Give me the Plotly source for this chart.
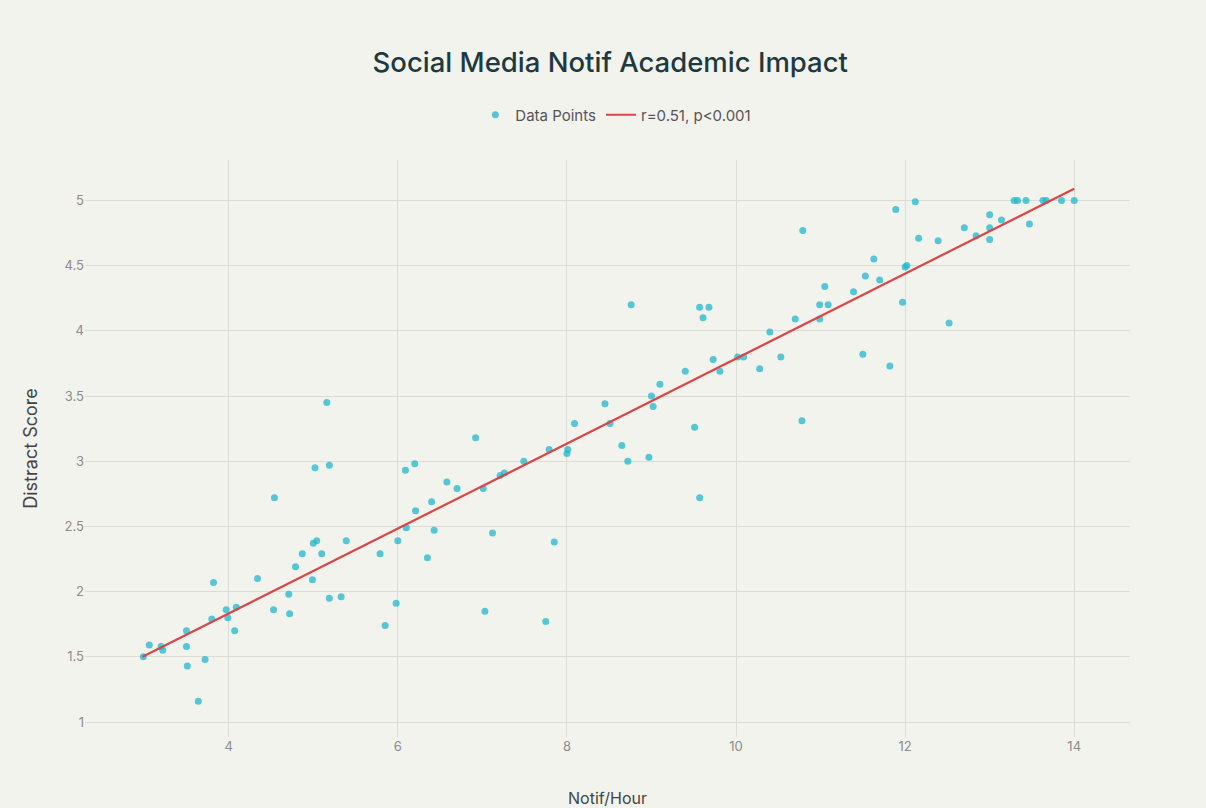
import plotly.graph_objects as go

# Notifications per hour vs. distraction score
notif_per_hour = [
    2.99, 3.06, 3.20, 3.22, 3.50, 3.50, 3.51, 3.72, 3.64, 3.80,
    3.82, 3.97, 3.99, 4.09, 4.07, 4.34, 4.53, 4.71, 4.72, 4.54,
    4.79, 4.87, 5.00, 5.04, 5.10, 4.99, 5.02, 5.19, 5.16, 5.19,
    5.33, 5.39, 5.79, 5.85, 5.98, 6.00, 6.10, 6.09, 6.20, 6.21,
    6.35, 6.40, 6.43, 6.58, 6.70, 6.92, 7.01, 7.03, 7.12, 7.21,
    7.26, 7.49, 7.75, 7.79, 7.85, 8.00, 8.01, 8.09, 8.45, 8.51,
    8.65, 8.72, 8.76, 8.97, 9.00, 9.02, 9.10, 9.40, 9.51, 9.57,
    9.57, 9.68, 9.61, 9.73, 9.81, 10.02, 10.09, 10.28, 10.40, 10.53,
    10.70, 10.78, 10.79, 10.99, 10.99, 11.09, 11.05, 11.39, 11.50, 11.53,
    11.63, 11.70, 11.82, 11.89, 11.97, 12.00, 12.02, 12.12, 12.16, 12.39,
    12.52, 12.70, 12.84, 13.00, 13.00, 13.00, 13.14, 13.29, 13.33, 13.43,
    13.47, 13.63, 13.67, 13.85, 14.00,
]
distract_score = [
    1.50, 1.59, 1.58, 1.55, 1.70, 1.58, 1.43, 1.48, 1.16, 1.79,
    2.07, 1.86, 1.80, 1.88, 1.70, 2.10, 1.86, 1.98, 1.83, 2.72,
    2.19, 2.29, 2.37, 2.39, 2.29, 2.09, 2.95, 2.97, 3.45, 1.95,
    1.96, 2.39, 2.29, 1.74, 1.91, 2.39, 2.49, 2.93, 2.98, 2.62,
    2.26, 2.69, 2.47, 2.84, 2.79, 3.18, 2.79, 1.85, 2.45, 2.89,
    2.91, 3.00, 1.77, 3.09, 2.38, 3.06, 3.09, 3.29, 3.44, 3.29,
    3.12, 3.00, 4.20, 3.03, 3.50, 3.42, 3.59, 3.69, 3.26, 2.72,
    4.18, 4.18, 4.10, 3.78, 3.69, 3.80, 3.80, 3.71, 3.99, 3.80,
    4.09, 3.31, 4.77, 4.09, 4.20, 4.20, 4.34, 4.30, 3.82, 4.42,
    4.55, 4.39, 3.73, 4.93, 4.22, 4.49, 4.50, 4.99, 4.71, 4.69,
    4.06, 4.79, 4.73, 4.89, 4.79, 4.70, 4.85, 5.00, 5.00, 5.00,
    4.82, 5.00, 5.00, 5.00, 5.00,
]

# Fitted trend line end points
trend_x = [2.98, 14.0]
trend_y = [1.50, 5.09]

x_ticks = [4, 6, 8, 10, 12, 14]
y_ticks = [1, 1.5, 2, 2.5, 3, 3.5, 4, 4.5, 5]

fig = go.Figure()
fig.add_trace(go.Scatter(
    x=notif_per_hour, y=distract_score, mode="markers", name="Data Points",
    marker=dict(color="#1FB8CD", size=7, opacity=0.75),
))
fig.add_trace(go.Scatter(
    x=trend_x, y=trend_y, mode="lines", name="r=0.51, p<0.001",
    line=dict(color="#DB4545", width=2.2),
))

fig.update_layout(
    width=1206, height=808,
    paper_bgcolor="#F3F3EE", plot_bgcolor="#F3F3EE",
    font=dict(family="Inter, sans-serif", color="#555555"),
    title=dict(text="Social Media Notif Academic Impact", x=0.506, xanchor="center",
               y=0.923, yanchor="middle",
               font=dict(size=27.5, color="#1E3A40", family="Inter, sans-serif", weight=500)),
    legend=dict(orientation="h", x=0.508, xanchor="center", y=1.078, yanchor="middle",
                font=dict(size=15, color="#555555"), bgcolor="rgba(0,0,0,0)"),
    margin=dict(l=85, r=76, t=160, b=71),
    showlegend=True,
)
fig.update_xaxes(
    title=dict(text="Notif/Hour", font=dict(size=16, color="#444444"), standoff=39),
    automargin=False,
    range=[2.3, 14.66], tickvals=x_ticks, ticktext=[str(t) for t in x_ticks],
    showgrid=True, gridcolor="#DCDCD6", zeroline=False, showline=False,
    tickfont=dict(size=13, color="#8C8C8C"), ticks="",
)
fig.update_yaxes(
    title=dict(text="Distract Score", font=dict(size=18, color="#444444"), standoff=22),
    automargin=False,
    range=[0.885, 5.31], tickvals=y_ticks, ticktext=[f"{t:g}" for t in y_ticks],
    showgrid=True, gridcolor="#DCDCD6", zeroline=False, showline=False,
    tickfont=dict(size=13, color="#8C8C8C"), ticks="",
)

fig.write_html("out.html")
